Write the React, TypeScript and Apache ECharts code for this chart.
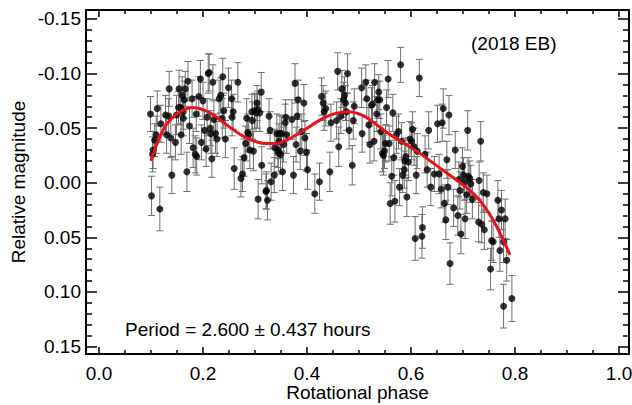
import React, { useEffect, useRef } from "react";
import * as echarts from "echarts";

// [rotational phase, relative magnitude, 1-sigma error]
const lightcurve: number[][] = [
  [0.099, -0.063, 0.016], [0.101, 0.012, 0.018], [0.117, 0.024, 0.020], [0.112, -0.068, 0.016],
  [0.104, -0.030, 0.017], [0.107, -0.039, 0.015], [0.110, -0.044, 0.017], [0.103, -0.026, 0.016],
  [0.119, -0.054, 0.017], [0.128, -0.062, 0.018], [0.134, -0.061, 0.016], [0.130, -0.044, 0.017],
  [0.135, -0.086, 0.016], [0.138, -0.041, 0.018], [0.140, -0.007, 0.017], [0.147, -0.037, 0.016],
  [0.149, -0.062, 0.018], [0.153, -0.069, 0.015], [0.154, -0.086, 0.017], [0.157, -0.069, 0.016],
  [0.158, -0.044, 0.018], [0.160, -0.080, 0.017], [0.162, -0.059, 0.016], [0.164, -0.076, 0.017],
  [0.166, -0.086, 0.016], [0.171, -0.093, 0.018], [0.169, -0.010, 0.018], [0.174, -0.052, 0.016],
  [0.179, -0.077, 0.017], [0.181, -0.032, 0.018], [0.185, -0.026, 0.017], [0.187, -0.063, 0.016],
  [0.192, -0.079, 0.018], [0.195, -0.095, 0.017], [0.197, -0.037, 0.016], [0.200, -0.075, 0.017],
  [0.203, -0.048, 0.018], [0.206, -0.031, 0.016], [0.208, -0.060, 0.017], [0.210, -0.100, 0.018],
  [0.212, -0.101, 0.017], [0.214, -0.050, 0.016], [0.215, -0.045, 0.018], [0.217, -0.022, 0.017],
  [0.219, -0.092, 0.016], [0.221, -0.058, 0.017], [0.224, -0.045, 0.018], [0.227, -0.040, 0.016],
  [0.231, -0.077, 0.017], [0.234, -0.080, 0.016], [0.237, -0.059, 0.018], [0.238, -0.097, 0.017],
  [0.240, -0.066, 0.016], [0.243, -0.040, 0.017], [0.249, -0.087, 0.018], [0.256, -0.060, 0.017],
  [0.258, -0.065, 0.016], [0.260, -0.013, 0.019], [0.255, -0.077, 0.017], [0.188, -0.024, 0.017],
  [0.162, -0.065, 0.016],
  [0.267, -0.092, 0.018], [0.273, -0.004, 0.017], [0.276, -0.008, 0.016], [0.279, -0.023, 0.017],
  [0.282, -0.036, 0.016], [0.284, -0.059, 0.018], [0.286, -0.046, 0.017], [0.288, -0.044, 0.016],
  [0.290, -0.030, 0.017], [0.294, -0.065, 0.016], [0.295, -0.057, 0.017], [0.297, -0.029, 0.018],
  [0.299, -0.066, 0.016], [0.302, -0.064, 0.017], [0.304, -0.073, 0.016], [0.305, -0.067, 0.017],
  [0.306, 0.015, 0.018], [0.309, -0.064, 0.017], [0.312, -0.083, 0.018], [0.313, -0.016, 0.017],
  [0.321, 0.008, 0.016], [0.322, 0.007, 0.017], [0.324, 0.016, 0.018], [0.327, -0.061, 0.016],
  [0.329, -0.048, 0.017], [0.331, -0.001, 0.017], [0.337, -0.007, 0.016], [0.338, -0.032, 0.017],
  [0.342, -0.045, 0.018], [0.344, -0.030, 0.016], [0.345, -0.027, 0.017], [0.346, -0.038, 0.016],
  [0.348, -0.045, 0.017], [0.349, -0.026, 0.018], [0.351, -0.045, 0.016], [0.353, -0.010, 0.017],
  [0.355, -0.035, 0.016], [0.358, -0.055, 0.017], [0.359, -0.060, 0.016], [0.361, -0.044, 0.017],
  [0.371, -0.058, 0.018], [0.374, -0.007, 0.017], [0.377, -0.091, 0.018], [0.379, -0.035, 0.016],
  [0.381, -0.061, 0.017], [0.383, -0.076, 0.018], [0.387, -0.029, 0.017], [0.390, -0.047, 0.016],
  [0.394, -0.073, 0.017], [0.396, -0.041, 0.016], [0.399, -0.028, 0.017], [0.401, -0.012, 0.018],
  [0.415, 0.010, 0.018], [0.424, -0.001, 0.017], [0.428, -0.079, 0.017], [0.431, -0.073, 0.016],
  [0.433, -0.065, 0.017], [0.436, -0.068, 0.016], [0.444, -0.010, 0.018], [0.446, -0.055, 0.017],
  [0.457, -0.057, 0.017], [0.459, -0.102, 0.017], [0.461, -0.033, 0.018], [0.465, -0.061, 0.016],
  [0.467, -0.086, 0.017], [0.470, -0.076, 0.016], [0.472, -0.080, 0.017], [0.474, -0.073, 0.016],
  [0.476, -0.065, 0.017], [0.478, -0.100, 0.018], [0.481, -0.048, 0.017], [0.487, -0.016, 0.018],
  [0.489, -0.057, 0.017], [0.491, -0.070, 0.016], [0.505, -0.087, 0.018], [0.506, -0.045, 0.017],
  [0.513, -0.092, 0.016], [0.515, -0.077, 0.017], [0.519, -0.053, 0.016], [0.521, -0.035, 0.017],
  [0.524, -0.071, 0.016], [0.526, -0.072, 0.017], [0.529, -0.038, 0.018], [0.530, -0.092, 0.017],
  [0.534, -0.063, 0.016], [0.536, -0.076, 0.017], [0.538, -0.083, 0.016], [0.540, -0.076, 0.017],
  [0.542, -0.047, 0.016], [0.545, -0.027, 0.017], [0.547, -0.025, 0.018], [0.549, -0.029, 0.016],
  [0.551, -0.036, 0.017], [0.553, -0.069, 0.016], [0.556, -0.095, 0.017], [0.558, -0.036, 0.016],
  [0.563, -0.006, 0.018], [0.565, -0.064, 0.017], [0.567, -0.023, 0.016], [0.560, 0.019, 0.019],
  [0.569, 0.017, 0.019], [0.572, -0.044, 0.017], [0.576, -0.047, 0.016], [0.578, 0.004, 0.017],
  [0.580, -0.108, 0.016], [0.582, -0.038, 0.017], [0.584, -0.007, 0.016], [0.587, -0.012, 0.017],
  [0.588, -0.020, 0.016], [0.590, -0.024, 0.017], [0.592, 0.013, 0.018], [0.595, -0.019, 0.017],
  [0.598, -0.040, 0.016], [0.601, -0.038, 0.017], [0.603, -0.049, 0.016], [0.606, -0.033, 0.017],
  [0.608, 0.051, 0.020], [0.610, -0.007, 0.017], [0.612, -0.029, 0.016], [0.616, -0.096, 0.017],
  [0.621, 0.049, 0.020], [0.622, 0.041, 0.019], [0.627, -0.026, 0.017], [0.631, -0.012, 0.016],
  [0.634, -0.048, 0.017],
  [0.638, 0.004, 0.017], [0.645, -0.008, 0.016], [0.651, -0.054, 0.017], [0.654, -0.008, 0.018],
  [0.658, 0.006, 0.017], [0.660, -0.055, 0.017], [0.662, -0.068, 0.018], [0.664, 0.019, 0.017],
  [0.667, 0.034, 0.018], [0.669, -0.021, 0.017], [0.671, 0.004, 0.016], [0.673, -0.062, 0.018],
  [0.675, 0.074, 0.019], [0.682, 0.023, 0.017], [0.685, -0.030, 0.017], [0.690, 0.030, 0.018],
  [0.692, -0.003, 0.016], [0.694, 0.007, 0.017], [0.696, 0.047, 0.018], [0.699, -0.015, 0.017],
  [0.701, -0.007, 0.016], [0.703, -0.001, 0.017], [0.704, 0.033, 0.018], [0.707, 0.011, 0.017],
  [0.709, -0.048, 0.018], [0.710, -0.006, 0.017], [0.713, -0.004, 0.016], [0.715, 0.001, 0.017],
  [0.718, 0.015, 0.018], [0.730, 0.036, 0.018], [0.731, -0.002, 0.017], [0.734, -0.038, 0.018],
  [0.736, 0.038, 0.017], [0.739, 0.009, 0.018], [0.741, 0.043, 0.018], [0.746, 0.010, 0.017],
  [0.753, 0.079, 0.019], [0.755, 0.053, 0.018], [0.758, 0.054, 0.019], [0.767, 0.016, 0.018],
  [0.769, 0.033, 0.017], [0.771, 0.062, 0.019], [0.774, 0.025, 0.018], [0.778, 0.054, 0.019],
  [0.781, 0.033, 0.018], [0.784, 0.071, 0.019], [0.778, 0.113, 0.020], [0.794, 0.106, 0.021],
];

// Fourier fit (red curve)
const fitPhase = [0.10, 0.12, 0.14, 0.16, 0.18, 0.20, 0.22, 0.24, 0.26, 0.28, 0.30, 0.32, 0.34, 0.36,
  0.38, 0.40, 0.42, 0.44, 0.46, 0.48, 0.50, 0.52, 0.54, 0.56, 0.58, 0.60, 0.62, 0.64, 0.66, 0.68,
  0.70, 0.72, 0.74, 0.76, 0.78, 0.79];
const fitMag = [-0.020, -0.045, -0.059, -0.066, -0.069, -0.067, -0.062, -0.055, -0.048, -0.042,
  -0.038, -0.036, -0.036, -0.039, -0.044, -0.050, -0.056, -0.061, -0.064, -0.065, -0.063, -0.058,
  -0.051, -0.044, -0.038, -0.032, -0.026, -0.019, -0.012, -0.005, 0.002, 0.010, 0.021, 0.036,
  0.055, 0.066];

const xMajorTicks = [0.0, 0.2, 0.4, 0.6, 0.8, 1.0];
const xMinorTicks = [0.05, 0.1, 0.15, 0.25, 0.3, 0.35, 0.45, 0.5, 0.55, 0.65, 0.7, 0.75, 0.85, 0.9, 0.95];
const yMajorTicks = [-0.15, -0.1, -0.05, 0.0, 0.05, 0.1, 0.15];
const yMinorTicks = [-0.14, -0.13, -0.12, -0.11, -0.09, -0.08, -0.07, -0.06, -0.04, -0.03, -0.02, -0.01,
  0.01, 0.02, 0.03, 0.04, 0.06, 0.07, 0.08, 0.09, 0.11, 0.12, 0.13, 0.14];

const objectLabel = "(2018 EB)";
const periodLabel = "Period = 2.600 ± 0.437 hours";

const X_MIN = -0.025;
const X_MAX = 1.0192;
const Y_MIN = -0.1582;
const Y_MAX = 0.1568;

const FONT = "'Liberation Sans', Arial, Helvetica, sans-serif";

export default function App() {
  const ref = useRef<HTMLDivElement>(null);

  useEffect(() => {
    document.body.style.margin = "0";
    const chart = echarts.init(ref.current!, null, { renderer: "svg" });

    const blackLine = { color: "#000", width: 1.5 };
    const mkX = (pos: string, ticks: number[], len: number, main: boolean, labels: boolean): any => ({
      type: "value",
      position: pos,
      min: X_MIN,
      max: X_MAX,
      axisLine: { show: main, onZero: false, lineStyle: { color: "#000", width: 2 } },
      axisTick: { show: true, inside: true, length: len, customValues: ticks, lineStyle: blackLine },
      axisLabel: labels
        ? {
            show: true,
            customValues: ticks,
            formatter: (v: number) => v.toFixed(1),
            margin: 10,
            fontSize: 19,
            lineHeight: 19,
            color: "#000",
            fontFamily: FONT,
          }
        : { show: false },
      splitLine: { show: false },
      ...(labels
        ? {
            name: "Rotational phase",
            nameLocation: "middle",
            nameGap: 29,
            nameMoveOverlap: false,
            nameTextStyle: { fontSize: 19, color: "#000", fontFamily: FONT, lineHeight: 19 },
          }
        : {}),
    });
    const mkY = (pos: string, ticks: number[], len: number, main: boolean, labels: boolean): any => ({
      type: "value",
      position: pos,
      inverse: true,
      min: Y_MIN,
      max: Y_MAX,
      axisLine: { show: main, onZero: false, lineStyle: { color: "#000", width: 2 } },
      axisTick: { show: true, inside: true, length: len, customValues: ticks, lineStyle: blackLine },
      axisLabel: labels
        ? {
            show: true,
            customValues: ticks,
            formatter: (v: number) => v.toFixed(2),
            margin: 5,
            fontSize: 19,
            color: "#000",
            fontFamily: FONT,
          }
        : { show: false },
      splitLine: { show: false },
      ...(labels
        ? {
            name: "Relative magnitude",
            nameLocation: "middle",
            nameGap: 58,
            nameMoveOverlap: false,
            nameTextStyle: { fontSize: 19, color: "#000", fontFamily: FONT },
          }
        : {}),
    });

    chart.setOption({
      animation: false,
      backgroundColor: "#fff",
      grid: { left: 86, top: 10, width: 543, height: 344, containLabel: false, outerBoundsMode: "none" } as any,
      xAxis: [
        mkX("bottom", xMajorTicks, 7, true, true),
        mkX("bottom", xMinorTicks, 4, false, false),
        mkX("top", xMajorTicks, 7, true, false),
        mkX("top", xMinorTicks, 4, false, false),
      ],
      yAxis: [
        mkY("left", yMajorTicks, 11, true, true),
        mkY("left", yMinorTicks, 6, false, false),
        mkY("right", yMajorTicks, 11, true, false),
        mkY("right", yMinorTicks, 6, false, false),
      ],
      series: [
        {
          type: "custom",
          xAxisIndex: 0,
          yAxisIndex: 0,
          data: lightcurve,
          encode: { x: 0, y: 1 },
          renderItem: (_p: any, api: any) => {
            const x = api.value(0);
            const y = api.value(1);
            const e = api.value(2);
            const a = api.coord([x, y - e]);
            const b = api.coord([x, y + e]);
            const cap = 3.5;
            const style = { stroke: "#6e6e6e", lineWidth: 1 };
            return {
              type: "group",
              children: [
                { type: "line", shape: { x1: a[0], y1: a[1], x2: b[0], y2: b[1] }, style },
                { type: "line", shape: { x1: a[0] - cap, y1: a[1], x2: a[0] + cap, y2: a[1] }, style },
                { type: "line", shape: { x1: b[0] - cap, y1: b[1], x2: b[0] + cap, y2: b[1] }, style },
              ],
            };
          },
          z: 1,
        },
        {
          type: "scatter",
          xAxisIndex: 0,
          yAxisIndex: 0,
          data: lightcurve.map((d) => [d[0], d[1]]),
          symbol: "circle",
          symbolSize: 7,
          itemStyle: { color: "#000" },
          z: 2,
        },
        {
          type: "line",
          xAxisIndex: 0,
          yAxisIndex: 0,
          data: fitPhase.map((p, i) => [p, fitMag[i]]),
          smooth: true,
          showSymbol: false,
          symbol: "none",
          lineStyle: { color: "#e8121a", width: 3 },
          z: 3,
        },
      ],
      graphic: [
        {
          type: "text",
          x: 471,
          y: 43,
          style: {
            text: objectLabel,
            fontSize: 19,
            fill: "#000",
            fontFamily: FONT,
            verticalAlign: "middle",
          },
        },
        {
          type: "text",
          x: 125,
          y: 329,
          style: {
            text: periodLabel,
            fontSize: 19,
            fill: "#000",
            fontFamily: FONT,
            verticalAlign: "middle",
          },
        },
      ],
    });

    return () => chart.dispose();
  }, []);

  return (
    <div
      ref={ref}
      style={{ position: "fixed", left: 0, top: 0, width: 632, height: 405, background: "#fff" }}
    />
  );
}
